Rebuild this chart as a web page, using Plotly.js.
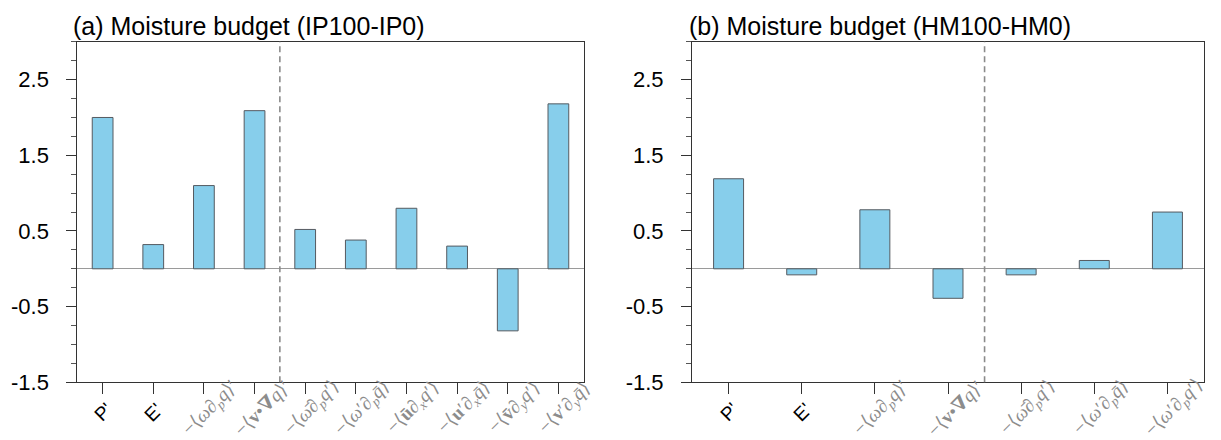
<!DOCTYPE html>
<html>
<head>
<meta charset="utf-8">
<script src="https://cdn.plot.ly/plotly-3.0.1.min.js"></script>
<style>html,body{margin:0;padding:0;background:#fff;}#chart{width:1221px;height:440px;}</style>
</head>
<body>
<div id="chart"></div>
<script>
// ---- data ----
const catsA = ["P'", "E'", "wdpq", "vgradq", "wbar_dpqp", "wp_dpqbar", "ubar_dxqp", "up_dxqbar", "vbar_dyqp", "vp_dyqbar"];
const valsA = [2.00, 0.32, 1.10, 2.09, 0.52, 0.38, 0.80, 0.30, -0.82, 2.18];
const catsB = ["P'", "E'", "wdpq", "vgradq", "wbar_dpqp", "wp_dpqbar", "wp_dpqp"];
const valsB = [1.19, -0.08, 0.78, -0.39, -0.08, 0.11, 0.75];
const ticksA = ["P'", "E'",
  "−⟨<i>ω</i>∂<sub><i>p</i></sub><i>q</i>⟩′",
  "−⟨<b>v</b>•<b>∇</b><i>q</i>⟩′",
  "−⟨<i>ω̄</i>∂<sub><i>p</i></sub><i>q</i>′⟩",
  "−⟨<i>ω</i>′∂<sub><i>p</i></sub><i>q̄</i>⟩",
  "−⟨<b>ū</b>∂<sub><i>x</i></sub><i>q</i>′⟩",
  "−⟨<b>u</b>′∂<sub><i>x</i></sub><i>q̄</i>⟩",
  "−⟨<b>v̄</b>∂<sub><i>y</i></sub><i>q</i>′⟩",
  "−⟨<b>v</b>′∂<sub><i>y</i></sub><i>q̄</i>⟩"];
const ticksB = ["P'", "E'",
  "−⟨<i>ω</i>∂<sub><i>p</i></sub><i>q</i>⟩′",
  "−⟨<b>v</b>•<b>∇</b><i>q</i>⟩′",
  "−⟨<i>ω̄</i>∂<sub><i>p</i></sub><i>q</i>′⟩",
  "−⟨<i>ω</i>′∂<sub><i>p</i></sub><i>q̄</i>⟩",
  "−⟨<i>ω</i>′∂<sub><i>p</i></sub><i>q</i>′⟩"];
const titleA = "(a) Moisture budget (IP100-IP0)";
const titleB = "(b) Moisture budget (HM100-HM0)";
const nTotalTerms = 4; // divider after the first four terms
const nPlainLabels = 2; // P' and E' drawn in black sans
const yRange = [-1.5, 3.0];
const yTickVals = [-1.5, -0.5, 0.5, 1.5, 2.5];

const barStyle = {color: '#87CEEB', line: {color: '#555a60', width: 1}};
const traces = [
  {type: 'bar', x: catsA, y: valsA, xaxis: 'x', yaxis: 'y', width: 0.41, marker: barStyle, hoverinfo: 'skip'},
  {type: 'bar', x: catsB, y: valsB, xaxis: 'x2', yaxis: 'y2', width: 0.41, marker: barStyle, hoverinfo: 'skip'}
];

const H = 440;
const yDom = [(H - 382.3) / H, (H - 41.8) / H];
function xax(dom, cats) {
  return {
    domain: dom, type: 'category', range: [-0.5, cats.length - 0.5],
    tickmode: 'array', tickvals: cats, showticklabels: false,
    ticks: 'outside', ticklen: 11, tickcolor: '#333', tickwidth: 1,
    showline: true, linecolor: '#333', linewidth: 1, mirror: true,
    showgrid: false, zeroline: false, fixedrange: true
  };
}
function yax(anchor) {
  return {
    domain: yDom, anchor: anchor, range: yRange,
    tickmode: 'array', tickvals: yTickVals, ticktext: yTickVals.map(v => String(v)),
    ticks: 'outside', ticklen: 10, tickcolor: '#333', tickwidth: 1,
    minor: {dtick: 0.25, tick0: 0, ticks: 'outside', ticklen: 5, tickcolor: '#555', showgrid: false},
    ticklabelstandoff: 13,
    showline: true, linecolor: '#333', linewidth: 1, mirror: true,
    showgrid: false, zeroline: true, zerolinecolor: '#9a9a9a', zerolinewidth: 1,
    fixedrange: true,
    tickfont: {family: 'Liberation Sans, Arial, sans-serif', size: 22, color: '#000'}
  };
}
const xa = xax([77.3 / 1221, 583.7 / 1221], catsA);
const xb = xax([692 / 1221, 1204 / 1221], catsB);
xa.anchor = 'y'; xb.anchor = 'y2';
const ya = yax('x');
const yb = yax('x2');

const divider = (xref, yref) => ({type: 'line', xref: xref, yref: yref + ' domain', x0: nTotalTerms - 0.5, x1: nTotalTerms - 0.5, y0: 0, y1: 1,
  line: {color: '#8a8a8a', width: 1.6, dash: '6px,4px'}});

function labelAnns(cats, ticks, xref) {
  return cats.map((c, i) => {
    const plain = i < nPlainLabels;
    return {
      text: ticks[i], xref: xref, yref: 'paper', x: c, y: (H - (plain ? 412 : 408)) / H,
      xanchor: 'center', yanchor: 'middle', xshift: plain ? 0 : 7, showarrow: false, textangle: -45,
      font: plain ? {family: 'Liberation Sans, Arial, sans-serif', size: 19, color: '#000'}
                  : {family: 'Liberation Serif, DejaVu Serif, serif', size: 19, color: '#8c8c8c'}
    };
  });
}

const titleFont = {family: 'Liberation Sans, Arial, sans-serif', size: 25, color: '#000'};
const layout = {
  width: 1221, height: 440,
  margin: {l: 0, r: 0, t: 0, b: 0},
  paper_bgcolor: '#fff', plot_bgcolor: '#fff',
  showlegend: false,
  xaxis: xa, yaxis: ya, xaxis2: xb, yaxis2: yb,
  bargap: 0,
  shapes: [divider('x', 'y'), divider('x2', 'y2')],
  annotations: [
    {text: titleA, xref: 'paper', yref: 'paper', x: 71 / 1221, y: 1 - 26 / H, xanchor: 'left', yanchor: 'middle', showarrow: false, font: titleFont},
    {text: titleB, xref: 'paper', yref: 'paper', x: 687 / 1221, y: 1 - 26 / H, xanchor: 'left', yanchor: 'middle', showarrow: false, font: titleFont}
  ].concat(labelAnns(catsA, ticksA, 'x'), labelAnns(catsB, ticksB, 'x2'))
};
Plotly.newPlot('chart', traces, layout, {staticPlot: true, displayModeBar: false});
</script>
</body>
</html>
